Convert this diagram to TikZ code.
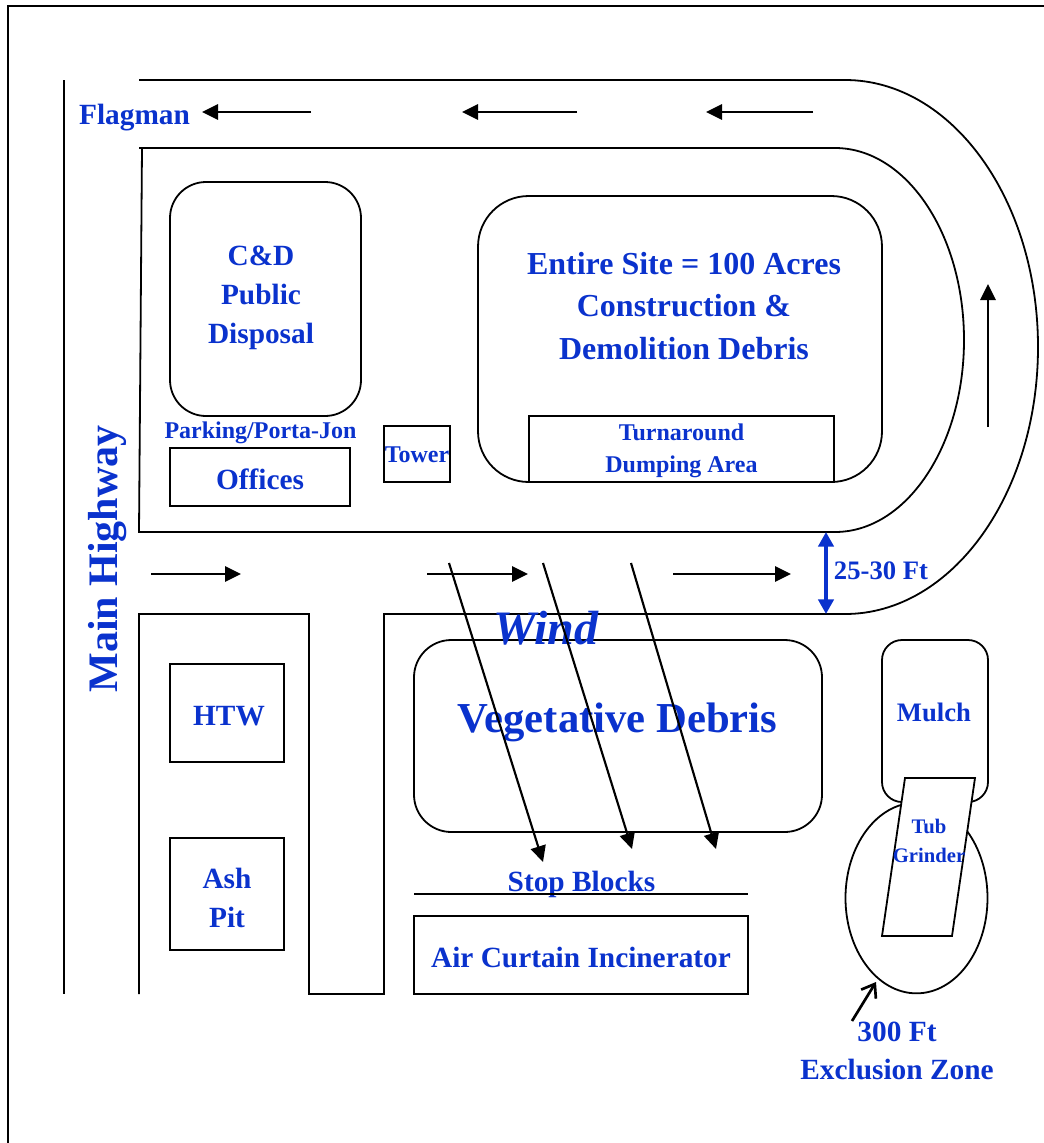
\documentclass[tikz,border=0pt]{standalone}
\usepackage{fontspec}
\setmainfont{Liberation Serif}
\usepackage{tikz}
\usetikzlibrary{arrows.meta, shapes.geometric}
\definecolor{sitecolor}{RGB}{10,50,205}

\begin{document}
\begin{tikzpicture}[
    x=0.75pt, y=-0.75pt,
    every node/.style={text=sitecolor, inner sep=0pt, align=center},
    line/.style={draw, line width=1.35pt},
    lab/.style={font=\bfseries\fontsize{22}{29}\selectfont},
    mid/.style={font=\bfseries\fontsize{20}{24}\selectfont},
    small/.style={font=\bfseries\fontsize{18}{24}\selectfont},
    tiny/.style={font=\bfseries\fontsize{15.5}{22}\selectfont},
    big/.style={font=\bfseries\fontsize{24}{32}\selectfont},
    huge/.style={font=\bfseries\fontsize{32}{40}\selectfont},
    flow/.style={draw, line width=1.6pt, -{Triangle[length=12pt, width=11.5pt]}}
]
    \useasboundingbox (0,0) rectangle (1044,1143);
    % Frame
    \draw[line width=1.5pt] (7.5,1143) -- (7.5,6) -- (1044,6);

    % Road
    \draw[line] (64,80) -- (64,994);
    \draw[line] (139,80) -- (845,80) arc[start angle=-90, end angle=90, x radius=193, y radius=267]
        -- (384,614) -- (384,994) -- (309,994) -- (309,614) -- (139,614) -- (139,994);
    \draw[line] (139,148) -- (835,148) arc[start angle=-90, end angle=90, x radius=129, y radius=192]
        -- (139,532) -- (142,148);

    % Areas
    \node[line, rounded corners=27pt, minimum width=143.25pt, minimum height=175.5pt] (disposal) at (265.5,299) {};
    \node[lab] at (261,298) {C\&D\\Public\\Disposal};
    \node[line, rounded corners=38pt, minimum width=303pt, minimum height=214.5pt] (site) at (680,339) {};
    \node[big] at (684,306) {Entire Site = 100 Acres\\Construction \&\\Demolition Debris};
    \node[line, minimum width=228.75pt, minimum height=49.5pt] (turnaround) at (681.5,449) {};
    \node[small, yshift=-1.5pt] at (turnaround) {Turnaround\\Dumping Area};
    \node[small] (parking) at (260.5,433) {Parking/Porta-Jon};
    \node[line, minimum width=135pt, minimum height=43.5pt] (offices) at (260,477) {};
    \node[lab, yshift=-1.5pt] at (offices) {Offices};
    \node[line, minimum width=49.5pt, minimum height=42pt] (tower) at (417,454) {};
    \node[small, yshift=-.75pt] at (tower) {Tower};
    \node[line, minimum width=85.5pt, minimum height=73.5pt] (htw) at (227,713) {};
    \node[lab, xshift=1.5pt, yshift=-2.25pt] at (htw) {HTW};
    \node[line, minimum width=85.5pt, minimum height=84pt] (ash) at (227,894) {};
    \node[lab, yshift=-3pt] at (ash) {Ash\\Pit};
    \node[line, rounded corners=28pt, minimum width=306pt, minimum height=144pt] (debris) at (618,736) {};
    \node[huge] at (617.5,722) {Vegetative Debris};
    \node[lab] (stop) at (581.5,884) {Stop Blocks};
    \coordinate (stopa) at (414,894);
    \coordinate (stopb) at (748,894);
    \draw[line] (stopa) -- (stopb);
    \node[line, minimum width=250.5pt, minimum height=58.5pt] (air) at (581,955) {};
    \node[lab, yshift=-1.5pt] at (air) {Air Curtain Incinerator};
    \node[line, rounded corners=15pt, minimum width=79.5pt, minimum height=121.5pt] (mulch) at (935,721) {};
    \node[mid] at (934,712) {Mulch};
    \node[line, ellipse, minimum width=106.5pt, minimum height=143pt] (zone) at (916.5,898) {};
    \draw[line, fill=white] (905,778) -- (975,778) -- (952,936) -- (882,936) -- cycle;
    \node[tiny] (tub) at (929,841) {Tub\\Grinder};
    \node[lab] (exclusion) at (897,1051) {300 Ft\\Exclusion Zone};
    \node[huge, font=\bfseries\fontsize{31.5}{40}\selectfont, rotate=90] (highway) at (108,559) {Main Highway};
    \node[lab] (flagman) at (134.5,118) {Flagman};
    \node[font=\bfseries\itshape\fontsize{36}{40}\selectfont] (wind) at (546,628) {Wind};
    \node[mid] (width) at (881,571) {25-30 Ft};

    % Traffic arrows
    \foreach \xa/\xb/\yy in {311/202/112, 577/462/112, 813/706/112, 151/241/574, 427/528/574, 673/791/574}
        \draw[flow] (\xa,\yy) -- (\xb,\yy);
    \draw[flow] (988,427) -- (988,284);

    % Wind arrows
    \draw[flow] (449,563) -- (543,862);
    \draw[flow] (543,563) -- (632,849);
    \draw[flow] (631,563) -- (716,849);

    \draw[draw=sitecolor, line width=2.6pt, {Triangle[length=11pt, width=11.5pt]}-{Triangle[length=11pt, width=11.5pt]}] (826,532) -- (826,614);
    \coordinate (zonetail) at (852,1021);
    \coordinate (zonetip) at (876,982);
    \draw[line width=2pt, -{Straight Barb[length=9pt, width=13pt]}] (zonetail) -- (zonetip);
\end{tikzpicture}
\end{document}
